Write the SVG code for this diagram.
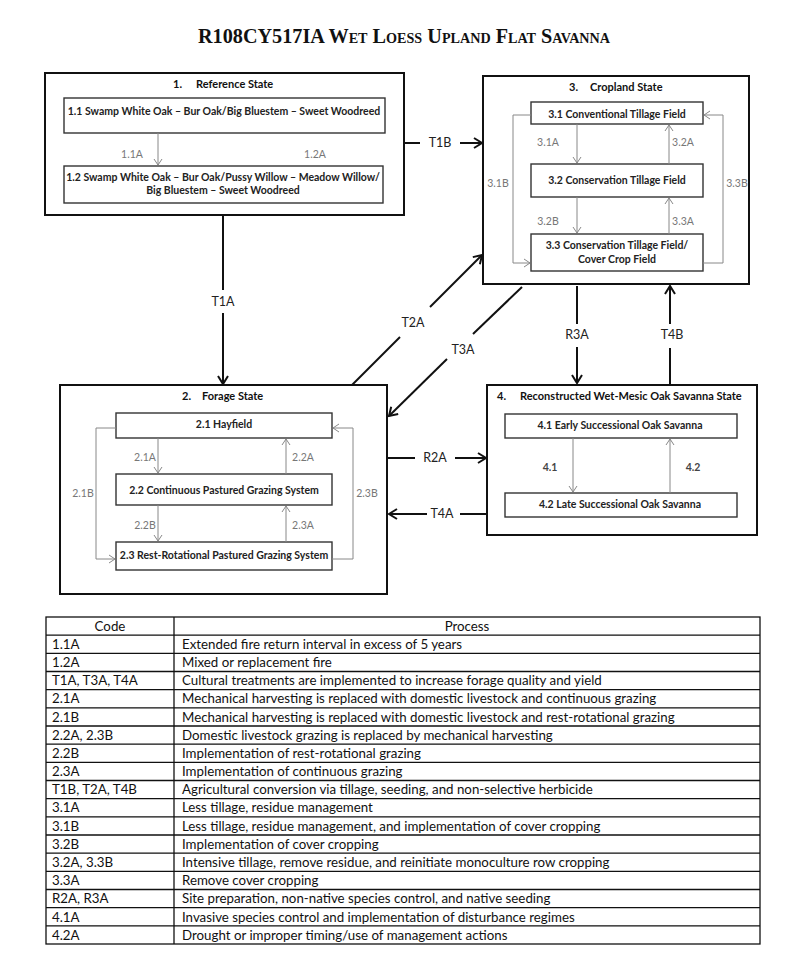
<svg xmlns="http://www.w3.org/2000/svg" width="800" height="967" viewBox="0 0 800 967">
<style>
.bg{fill:#fff}
.state{fill:#fff;stroke:#111;stroke-width:2}
.sub{fill:#fff;stroke:#333;stroke-width:1.4}
.st{font-family:Lato,"Liberation Sans",sans-serif;font-weight:bold;font-size:11px;fill:#111}
.bx{font-family:Lato,"Liberation Sans",sans-serif;font-weight:bold;font-size:10.5px;fill:#222;text-anchor:middle}
.gl{font-family:Lato,"Liberation Sans",sans-serif;font-size:10.5px;fill:#777;text-anchor:middle}
.bl{font-family:Lato,"Liberation Sans",sans-serif;font-weight:bold;font-size:10.5px;fill:#444;text-anchor:middle}
.tl{font-family:Lato,"Liberation Sans",sans-serif;font-size:12.5px;fill:#222;text-anchor:middle}
.main{fill:none;stroke:#111;stroke-width:2}
.inner{fill:none;stroke:#888;stroke-width:1}
.tb{fill:none;stroke:#111;stroke-width:1.3}
.tt{font-family:Lato,"Liberation Sans",sans-serif;font-size:13.3px;fill:#111}
.th{font-family:Lato,"Liberation Sans",sans-serif;font-size:13.3px;fill:#111;text-anchor:middle}
.title{font-family:"Liberation Serif","Times New Roman",serif;font-weight:bold;font-size:20px;font-variant:small-caps;fill:#111;text-anchor:middle}
</style>
<defs>
<marker id="ah" markerUnits="userSpaceOnUse" markerWidth="14" markerHeight="14" refX="11" refY="6" orient="auto">
<path d="M3,1 L11,6 L3,11" fill="none" stroke="#111" stroke-width="2"/>
</marker>
<marker id="ag" markerUnits="userSpaceOnUse" markerWidth="12" markerHeight="12" refX="9" refY="5" orient="auto">
<path d="M3,1 L9,5 L3,9" fill="none" stroke="#888" stroke-width="1"/>
</marker>
</defs>
<rect class="bg" x="0" y="0" width="800" height="967"/>
<text class="title" x="404" y="43" textLength="412" lengthAdjust="spacingAndGlyphs">R108CY517IA Wet Loess Upland Flat Savanna</text>

<g id="state1">
<rect class="state" x="45" y="73" width="359" height="142"/>
<text class="st" x="173" y="88">1.</text>
<text class="st" x="196" y="88">Reference State</text>
<g id="n1_1"><rect class="sub" x="64" y="98" width="321" height="35"/>
<text class="bx" x="224" y="115">1.1 Swamp White Oak – Bur Oak/Big Bluestem – Sweet Woodreed</text></g>
<g id="n1_2"><rect class="sub" x="64" y="166" width="319" height="37"/>
<text class="bx" x="223" y="181">1.2 Swamp White Oak – Bur Oak/Pussy Willow – Meadow Willow/</text>
<text class="bx" x="223" y="194">Big Bluestem – Sweet Woodreed</text></g>
</g>

<g id="state3">
<rect class="state" x="483" y="76" width="266" height="208"/>
<text class="st" x="569" y="91">3.</text>
<text class="st" x="590" y="91">Cropland State</text>
<g id="n3_1"><rect class="sub" x="531" y="102" width="172" height="22"/>
<text class="bx" x="617" y="118">3.1 Conventional Tillage Field</text></g>
<g id="n3_2"><rect class="sub" x="531" y="164" width="172" height="33"/>
<text class="bx" x="617" y="184">3.2 Conservation Tillage Field</text></g>
<g id="n3_3"><rect class="sub" x="531" y="234" width="172" height="37"/>
<text class="bx" x="617" y="249">3.3 Conservation Tillage Field/</text>
<text class="bx" x="617" y="263">Cover Crop Field</text></g>
</g>

<g id="state2">
<rect class="state" x="60" y="385" width="327" height="209"/>
<text class="st" x="182" y="400">2.</text>
<text class="st" x="202" y="400">Forage State</text>
<g id="n2_1"><rect class="sub" x="116" y="413" width="216" height="25"/>
<text class="bx" x="224" y="428">2.1 Hayfield</text></g>
<g id="n2_2"><rect class="sub" x="116" y="474" width="216" height="31"/>
<text class="bx" x="224" y="494">2.2 Continuous Pastured Grazing System</text></g>
<g id="n2_3"><rect class="sub" x="116" y="542" width="216" height="28"/>
<text class="bx" x="224" y="559">2.3 Rest-Rotational Pastured Grazing System</text></g>
</g>

<g id="state4">
<rect class="state" x="487" y="385" width="270" height="150"/>
<text class="st" x="497" y="400">4.</text>
<text class="st" x="520" y="400">Reconstructed Wet-Mesic Oak Savanna State</text>
<g id="n4_1"><rect class="sub" x="505" y="414" width="232" height="24"/>
<text class="bx" x="620" y="429">4.1  Early Successional Oak Savanna</text></g>
<g id="n4_2"><rect class="sub" x="505" y="493" width="232" height="24"/>
<text class="bx" x="620" y="508">4.2 Late Successional Oak Savanna</text></g>
</g>

<g id="connectors">
<line class="inner" x1="158" y1="133" x2="158" y2="165" marker-end="url(#ag)"/>
<text class="gl" x="132" y="158">1.1A</text>
<text class="gl" x="315" y="158">1.2A</text>
<line class="inner" x1="577" y1="124" x2="577" y2="163" marker-end="url(#ag)"/>
<line class="inner" x1="669" y1="164" x2="669" y2="125" marker-end="url(#ag)"/>
<line class="inner" x1="577" y1="197" x2="577" y2="233" marker-end="url(#ag)"/>
<line class="inner" x1="669" y1="234" x2="669" y2="198" marker-end="url(#ag)"/>
<polyline class="inner" points="531,115 513,115 513,263 530,263" marker-end="url(#ag)"/>
<polyline class="inner" points="703,263 723,263 723,115 704,115" marker-end="url(#ag)"/>
<text class="gl" x="548" y="146">3.1A</text>
<text class="gl" x="683" y="146">3.2A</text>
<text class="gl" x="548" y="225">3.2B</text>
<text class="gl" x="683" y="225">3.3A</text>
<text class="gl" x="498" y="187">3.1B</text>
<text class="gl" x="737" y="187">3.3B</text>
<line class="inner" x1="158" y1="438" x2="158" y2="473" marker-end="url(#ag)"/>
<line class="inner" x1="286" y1="474" x2="286" y2="439" marker-end="url(#ag)"/>
<line class="inner" x1="158" y1="505" x2="158" y2="541" marker-end="url(#ag)"/>
<line class="inner" x1="286" y1="542" x2="286" y2="506" marker-end="url(#ag)"/>
<polyline class="inner" points="116,428 96,428 96,559 115,559" marker-end="url(#ag)"/>
<polyline class="inner" points="332,559 353,559 353,428 333,428" marker-end="url(#ag)"/>
<text class="gl" x="145" y="461">2.1A</text>
<text class="gl" x="303" y="461">2.2A</text>
<text class="gl" x="145" y="529">2.2B</text>
<text class="gl" x="303" y="529">2.3A</text>
<text class="gl" x="83" y="497">2.1B</text>
<text class="gl" x="367" y="497">2.3B</text>
<line class="inner" x1="573" y1="438" x2="573" y2="492" marker-end="url(#ag)"/>
<line class="inner" x1="670" y1="493" x2="670" y2="439" marker-end="url(#ag)"/>
<text class="bl" x="550" y="471">4.1</text>
<text class="bl" x="693" y="471">4.2</text>
<line class="main" x1="404" y1="143" x2="420" y2="143"/>
<line class="main" x1="460" y1="143" x2="482" y2="143" marker-end="url(#ah)"/>
<text class="tl" x="440" y="147">T1B</text>
<line class="main" x1="223" y1="215" x2="223" y2="290"/>
<line class="main" x1="223" y1="313" x2="223" y2="384" marker-end="url(#ah)"/>
<text class="tl" x="223" y="306">T1A</text>
<line class="main" x1="352" y1="385" x2="400" y2="337"/>
<line class="main" x1="430" y1="307" x2="482" y2="255" marker-end="url(#ah)"/>
<text class="tl" x="413" y="327">T2A</text>
<line class="main" x1="522" y1="287" x2="473" y2="334"/>
<line class="main" x1="447" y1="359" x2="389" y2="416" marker-end="url(#ah)"/>
<text class="tl" x="463" y="354">T3A</text>
<line class="main" x1="577" y1="286" x2="577" y2="324"/>
<line class="main" x1="577" y1="347" x2="577" y2="383" marker-end="url(#ah)"/>
<text class="tl" x="577" y="339">R3A</text>
<line class="main" x1="670" y1="385" x2="670" y2="348"/>
<line class="main" x1="670" y1="324" x2="670" y2="286" marker-end="url(#ah)"/>
<text class="tl" x="672" y="339">T4B</text>
<line class="main" x1="387" y1="458" x2="415" y2="458"/>
<line class="main" x1="455" y1="458" x2="486" y2="458" marker-end="url(#ah)"/>
<text class="tl" x="435" y="462">R2A</text>
<line class="main" x1="487" y1="514" x2="460" y2="514"/>
<line class="main" x1="427" y1="514" x2="389" y2="514" marker-end="url(#ah)"/>
<text class="tl" x="442" y="518">T4A</text>
</g>

<g id="table">
<rect class="tb" x="46" y="617" width="714" height="327"/>
<line class="tb" x1="174" y1="617" x2="174" y2="944"/>
<path class="tb" d="M46,635.2H760M46,653.3H760M46,671.5H760M46,689.7H760M46,707.8H760M46,726H760M46,744.2H760M46,762.3H760M46,780.5H760M46,798.7H760M46,816.8H760M46,835H760M46,853.2H760M46,871.3H760M46,889.5H760M46,907.7H760M46,925.8H760"/>
<text class="th" x="110" y="631">Code</text>
<text class="th" x="467" y="631">Process</text>
<text class="tt" x="52" y="649">1.1A</text><text class="tt" x="182" y="649">Extended fire return interval in excess of 5 years</text>
<text class="tt" x="52" y="667">1.2A</text><text class="tt" x="182" y="667">Mixed or replacement fire</text>
<text class="tt" x="52" y="685">T1A, T3A, T4A</text><text class="tt" x="182" y="685">Cultural treatments are implemented to increase forage quality and yield</text>
<text class="tt" x="52" y="703">2.1A</text><text class="tt" x="182" y="703">Mechanical harvesting is replaced with domestic livestock and continuous grazing</text>
<text class="tt" x="52" y="722">2.1B</text><text class="tt" x="182" y="722">Mechanical harvesting is replaced with domestic livestock and rest-rotational grazing</text>
<text class="tt" x="52" y="740">2.2A, 2.3B</text><text class="tt" x="182" y="740">Domestic livestock grazing is replaced by mechanical harvesting</text>
<text class="tt" x="52" y="758">2.2B</text><text class="tt" x="182" y="758">Implementation of rest-rotational grazing</text>
<text class="tt" x="52" y="776">2.3A</text><text class="tt" x="182" y="776">Implementation of continuous grazing</text>
<text class="tt" x="52" y="794">T1B, T2A, T4B</text><text class="tt" x="182" y="794">Agricultural conversion via tillage, seeding, and non-selective herbicide</text>
<text class="tt" x="52" y="812">3.1A</text><text class="tt" x="182" y="812">Less tillage, residue management</text>
<text class="tt" x="52" y="831">3.1B</text><text class="tt" x="182" y="831">Less tillage, residue management, and implementation of cover cropping</text>
<text class="tt" x="52" y="849">3.2B</text><text class="tt" x="182" y="849">Implementation of cover cropping</text>
<text class="tt" x="52" y="867">3.2A, 3.3B</text><text class="tt" x="182" y="867">Intensive tillage, remove residue, and reinitiate monoculture row cropping</text>
<text class="tt" x="52" y="885">3.3A</text><text class="tt" x="182" y="885">Remove cover cropping</text>
<text class="tt" x="52" y="903">R2A, R3A</text><text class="tt" x="182" y="903">Site preparation, non-native species control, and native seeding</text>
<text class="tt" x="52" y="922">4.1A</text><text class="tt" x="182" y="922">Invasive species control and implementation of disturbance regimes</text>
<text class="tt" x="52" y="940">4.2A</text><text class="tt" x="182" y="940">Drought or improper timing/use of management actions</text>
</g>
</svg>
